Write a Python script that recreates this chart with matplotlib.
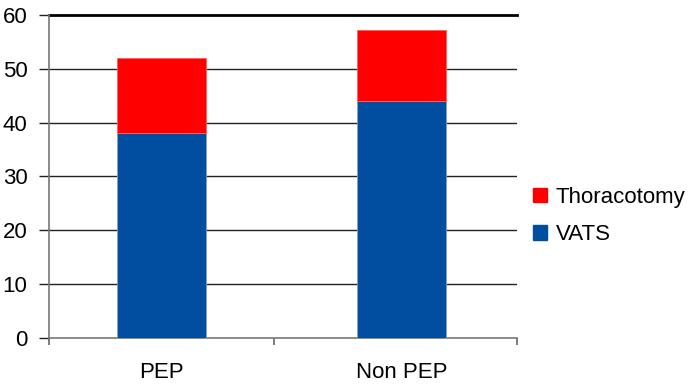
import matplotlib
matplotlib.use("Agg")
import matplotlib.pyplot as plt
from matplotlib.patches import Patch
import numpy as np

categories = ["PEP", "Non PEP"]
vats = [38, 44]
thoracotomy = [14, 13.3]
series_labels = ["Thoracotomy", "VATS"]
yticks = [0, 10, 20, 30, 40, 50, 60]

blue = "#014DA0"
red = "#FF0000"

plt.rcParams["font.family"] = ["Liberation Sans", "DejaVu Sans"]

fig = plt.figure(figsize=(6.88, 3.86), dpi=100)
ax = fig.add_axes([0.0712, 0.1244, 0.6803, 0.8367])

x = np.arange(len(categories))
w = 0.37
ax.bar(x, vats, w, color=blue, edgecolor="#7FA3D0", linewidth=0.6, zorder=3)
ax.bar(x, thoracotomy, w, bottom=vats, color=red, edgecolor="#FF6060", linewidth=0.6, zorder=3)

ax.set_xlim(-0.469, 1.481)
ax.set_ylim(0, 60)
ax.set_yticks(yticks)
ax.set_xticks(x)
ax.set_xticklabels(categories, fontsize=16)
ax.set_xticks([-0.469, 0.469, 1.481], minor=True)

for y in yticks[1:-1]:
    ax.axhline(y, color="#222222", linewidth=1.0, zorder=1)
ax.axhline(60, color="black", linewidth=2.0, zorder=1, clip_on=False)

ax.tick_params(axis="y", length=7.5, width=1.0, color="#222222", labelsize=16, pad=8)
ax.tick_params(axis="x", which="major", length=0, pad=17)
ax.tick_params(axis="x", which="minor", length=5, width=1.2, color="#666666")

for s in ["top", "right"]:
    ax.spines[s].set_visible(False)
ax.spines["left"].set_color("#777777")
ax.spines["left"].set_linewidth(1.2)
ax.spines["bottom"].set_color("#777777")
ax.spines["bottom"].set_linewidth(1.2)

handles = [Patch(color=red), Patch(color=blue)]
fig.legend(handles, series_labels, loc="center left", bbox_to_anchor=(0.774, 0.44),
           frameon=False, fontsize=16, handlelength=0.65, handleheight=0.65,
           handletextpad=0.4, labelspacing=0.75, borderaxespad=0, borderpad=0)

fig.savefig("out.png", dpi=100)
